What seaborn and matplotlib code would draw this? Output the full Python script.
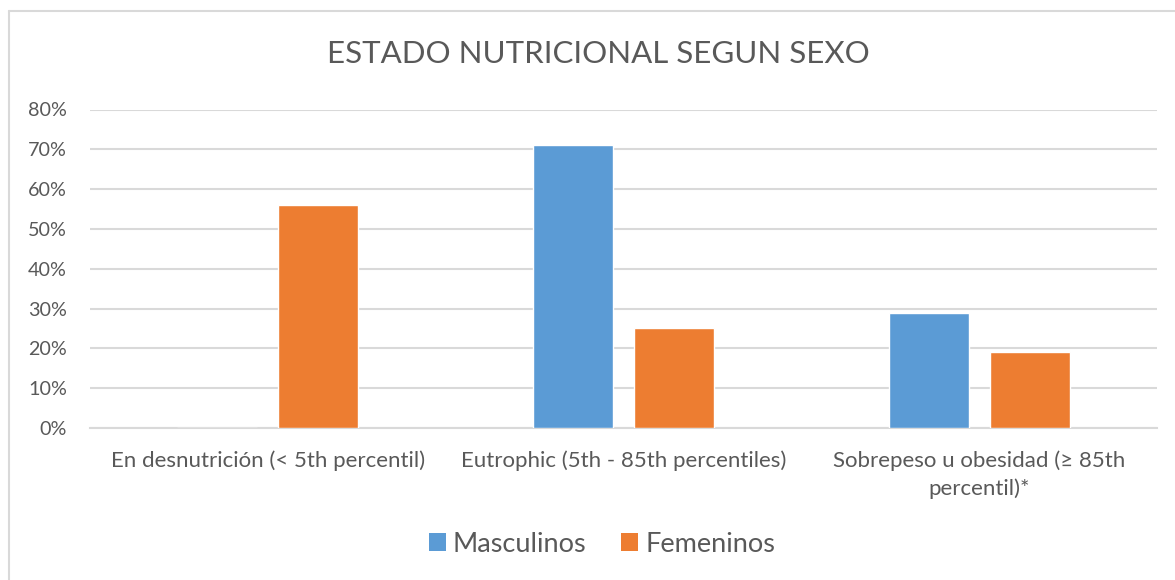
import matplotlib
matplotlib.use("Agg")
import matplotlib.pyplot as plt
import seaborn as sns
import pandas as pd
from matplotlib.patches import Rectangle
from matplotlib.lines import Line2D

categories = ["En desnutrición (< 5th percentil)",
              "Eutrophic (5th - 85th percentiles)",
              "Sobrepeso u obesidad (≥ 85th\npercentil)*"]
masculinos = [0.0, 0.71, 0.29]
femeninos = [0.56, 0.25, 0.19]
series = ["Masculinos", "Femeninos"]
yticks = [0, 0.1, 0.2, 0.3, 0.4, 0.5, 0.6, 0.7, 0.8]
ytick_labels = ["0%", "10%", "20%", "30%", "40%", "50%", "60%", "70%", "80%"]
title = "ESTADO NUTRICIONAL SEGUN SEXO"

colors = {"Masculinos": "#5B9BD5", "Femeninos": "#ED7D31"}
txt = "#595959"
grid = "#D9D9D9"

df = pd.DataFrame({
    "cat": categories * 2,
    "val": masculinos + femeninos,
    "serie": [series[0]] * 3 + [series[1]] * 3,
})

sns.set_theme(style="white")
plt.rcParams["font.family"] = ["Lato", "DejaVu Sans"]

fig = plt.figure(figsize=(11.75, 5.8), dpi=100)
ax = fig.add_axes([90 / 1175, 1 - 428 / 580, (1157 - 90) / 1175, (428 - 109.5) / 580])

sns.barplot(data=df, x="cat", y="val", hue="serie", order=categories,
            hue_order=series, palette=colors, width=0.568, gap=0.21,
            saturation=1, ax=ax, legend=False, zorder=3)

ax.set_ylim(0, 0.8)
ax.set_xlim(-0.5, 2.5)
ax.set_yticks(yticks)
ax.set_yticklabels(ytick_labels)
ax.yaxis.grid(True, color=grid, linewidth=1.5, zorder=0)
ax.set_axisbelow(True)
for s in ["left", "right", "top"]:
    ax.spines[s].set_visible(False)
ax.spines["bottom"].set_color(grid)
ax.spines["bottom"].set_linewidth(1.5)
ax.tick_params(axis="y", length=0, pad=16.5, labelsize=14.2, labelcolor=txt)
ax.tick_params(axis="x", length=0, pad=16, labelsize=16, labelcolor=txt)
for lbl in ax.get_xticklabels():
    lbl.set_linespacing(1.45)
ax.set_xlabel("")
ax.set_ylabel("")

fig.text(598 / 1175, 1 - 54 / 580, title, ha="center", va="center",
         fontsize=22.5, color=txt)

handles = [Rectangle((0, 0), 1, 1, facecolor=colors[s], edgecolor="none") for s in series]
fig.legend(handles, series, loc="center", bbox_to_anchor=(602 / 1175, 1 - 544 / 580),
           ncol=2, frameon=False, fontsize=19.5, labelcolor=txt,
           handlelength=0.62, handleheight=0.62, handletextpad=0.25, columnspacing=1.3)

# chart border (left and top visible)
fig.add_artist(Line2D([9 / 1175, 9 / 1175], [0, 1 - 11 / 580], transform=fig.transFigure,
                      color=grid, linewidth=1.5))
fig.add_artist(Line2D([9 / 1175, 1], [1 - 11 / 580, 1 - 11 / 580], transform=fig.transFigure,
                      color=grid, linewidth=1.5))

fig.savefig("out.png", dpi=100)
